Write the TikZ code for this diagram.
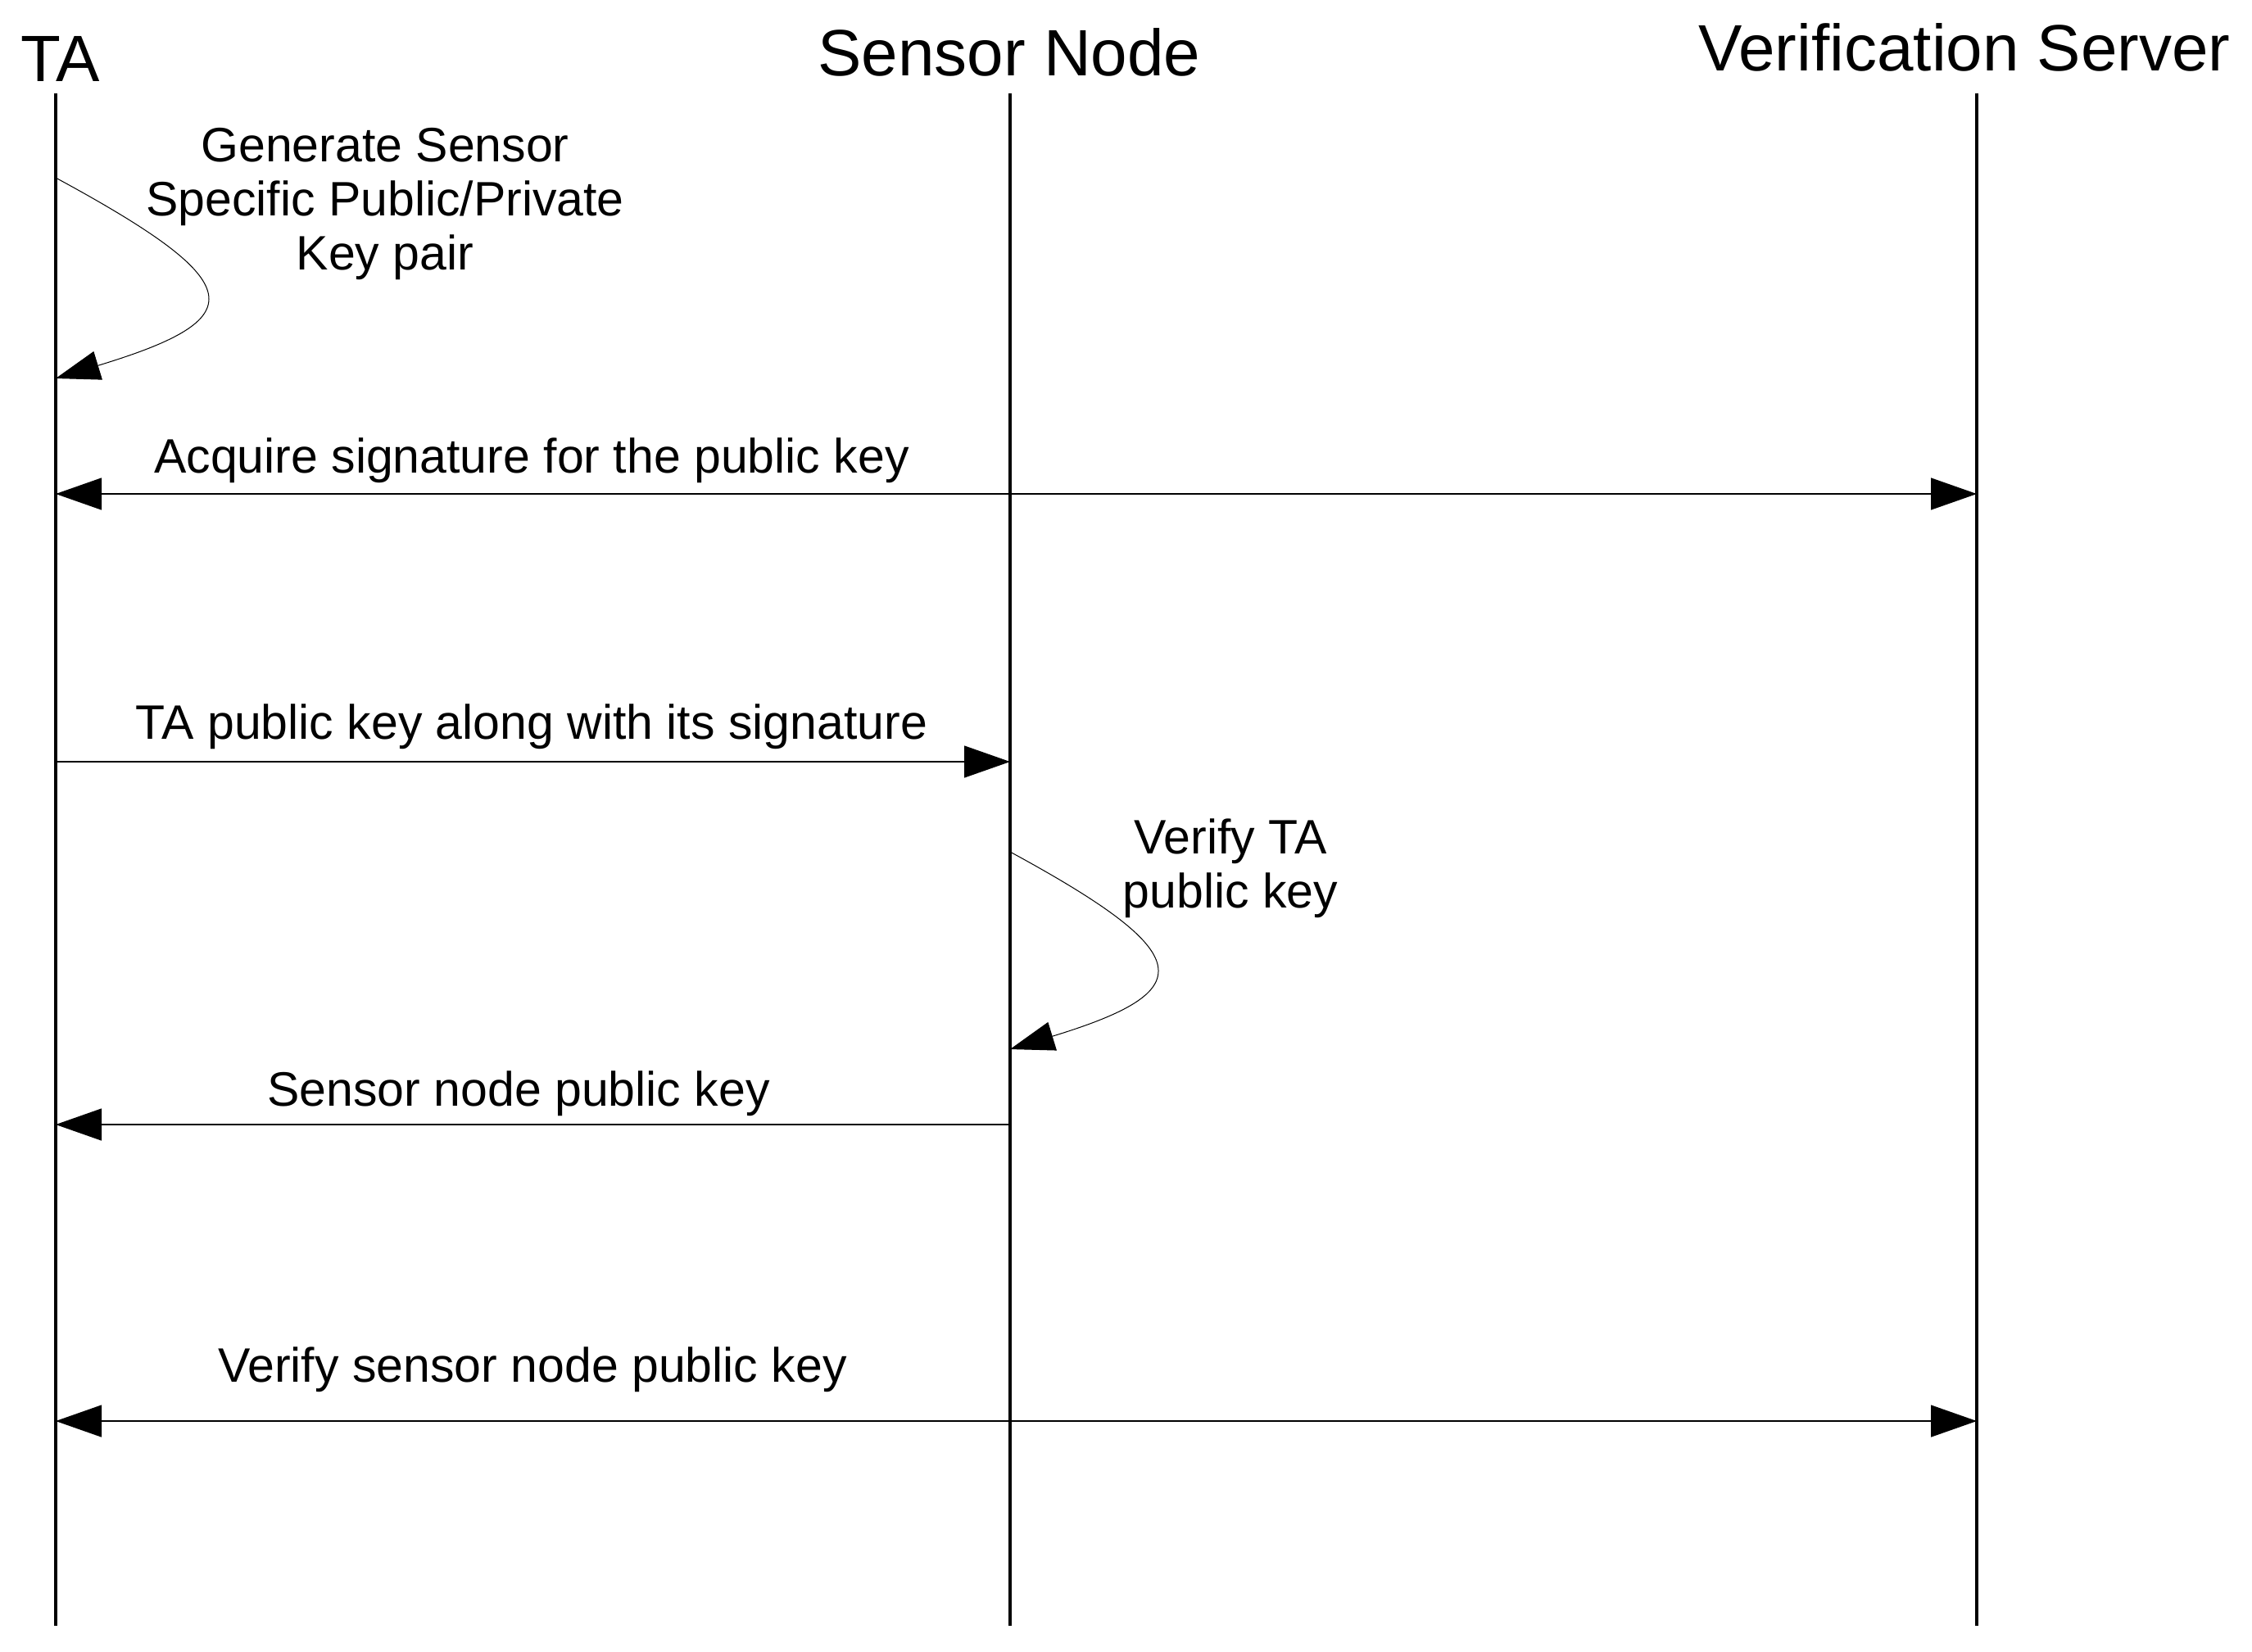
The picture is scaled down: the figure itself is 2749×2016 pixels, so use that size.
\documentclass[tikz,border=0pt]{standalone}
\usepackage{fontspec}
\setmainfont{Liberation Sans}
\usetikzlibrary{arrows.meta}

\begin{document}
\begin{tikzpicture}[x=0.25pt, y=-0.25pt,
  >={Triangle[length=14pt, width=9.75pt]},
  head/.style={anchor=base, inner sep=0pt, font=\fontsize{20}{24}\selectfont},
  msglabel/.style={anchor=base, inner sep=0pt, align=center, font=\fontsize{14.75}{16.5}\selectfont},
  lifeline/.style={line width=1pt, draw=black},
  msg/.style={line width=0.35pt, draw=black},
  selfmsg/.style={line width=0.25pt, -{Triangle[length=13.5pt, width=9pt]}}]
\useasboundingbox (0,0) rectangle (2749,2016);
\node[head] (TA) at (74,99) {TA};
\node[head] (SN) at (1232,92) {Sensor Node};
\node[head] (VS) at (2398,86) {Verification Server};
\coordinate (TAtop) at (68,114);
\coordinate (TAbot) at (68,1985);
\coordinate (SNtop) at (1233,114);
\coordinate (SNbot) at (1233,1985);
\coordinate (VStop) at (2413,114);
\coordinate (VSbot) at (2413,1985);
\path [lifeline] (TAtop) edge (TAbot);
\path [lifeline] (SNtop) edge (SNbot);
\path [lifeline] (VStop) edge (VSbot);
\coordinate (gen1) at (68,217);
\coordinate (gen2) at (68,462);
\coordinate (acq1) at (68,603);
\coordinate (acq2) at (2413,603);
\coordinate (tapk1) at (68,930);
\coordinate (tapk2) at (1233,930);
\coordinate (chk1) at (1233,1040);
\coordinate (chk2) at (1233,1281);
\coordinate (snpk1) at (1233,1373);
\coordinate (snpk2) at (68,1373);
\coordinate (ver1) at (68,1735);
\coordinate (ver2) at (2413,1735);
\draw [selfmsg] (gen1) .. controls +(240,130) and +(240,-73) .. (gen2);
\node[msglabel] (genlbl) at (470,329) {Generate Sensor\\Specific Public/Private\\Key pair};
\path [msg] (acq1) edge[<->] (acq2);
\node[msglabel] (acqlbl) at (649,577) {Acquire signature for the public key};
\path [msg] (tapk1) edge[->] (tapk2);
\node[msglabel] (tapklbl) at (649,902) {TA public key along with its signature};
\draw [selfmsg] (chk1) .. controls +(232,126) and +(232,-71) .. (chk2);
\node[msglabel] (chklbl) at (1502,1108) {Verify TA\\public key};
\path [msg] (snpk1) edge[->] (snpk2);
\node[msglabel] (snpklbl) at (633,1350) {Sensor node public key};
\path [msg] (ver1) edge[<->] (ver2);
\node[msglabel] (verlbl) at (650,1687) {Verify sensor node public key};
\end{tikzpicture}
\end{document}
